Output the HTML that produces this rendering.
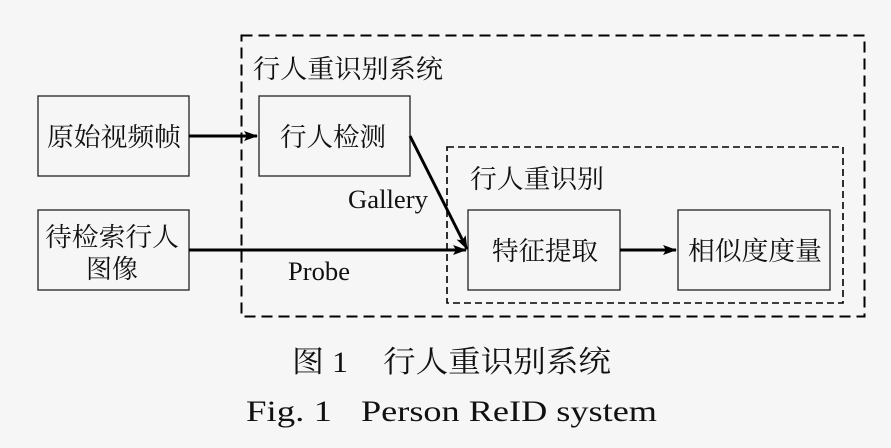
<!DOCTYPE html>
<html><head><meta charset="utf-8"><style>
html,body{margin:0;padding:0;background:#f6f6f6;}
svg{display:block}
</style></head><body>
<svg width="891" height="448" viewBox="0 0 891 448" xmlns="http://www.w3.org/2000/svg">
<defs><marker id="a" markerWidth="14" markerHeight="10" refX="13" refY="5" orient="auto" markerUnits="userSpaceOnUse"><path d="M0,0 L14,5 L0,10 L3,5 z" fill="#000"/></marker></defs>
<rect width="891" height="448" fill="#f6f6f6"/>
<rect x="241.5" y="35.5" width="623" height="281" fill="none" stroke="#000" stroke-width="2" stroke-dasharray="11,6"/>
<rect x="447" y="147" width="396" height="156" fill="none" stroke="#000" stroke-width="1.6" stroke-dasharray="7,4"/>
<g fill="none" stroke="#222" stroke-width="1.3">
<rect x="38" y="96" width="151" height="80"/>
<rect x="259" y="96" width="151" height="80"/>
<rect x="38" y="210" width="151" height="80"/>
<rect x="468" y="210" width="152" height="80"/>
<rect x="678" y="210" width="152" height="80"/>
</g>
<g stroke="#000" stroke-width="3" fill="none">
<line x1="189" y1="136" x2="257" y2="136" marker-end="url(#a)"/>
<line x1="189" y1="250" x2="466" y2="250" marker-end="url(#a)"/>
<line x1="410" y1="136" x2="467" y2="249" marker-end="url(#a)"/>
<line x1="620" y1="250" x2="676" y2="250" marker-end="url(#a)"/>
</g>
<g font-family="'Noto Serif CJK SC','Noto Sans CJK SC',serif" font-size="26" fill="#111">
<text x="47" y="146" textLength="134" lengthAdjust="spacingAndGlyphs">原始视频帧</text>
<text x="280" y="146" textLength="106" lengthAdjust="spacingAndGlyphs">行人检测</text>
<text x="45" y="246" textLength="134" lengthAdjust="spacingAndGlyphs">待检索行人</text>
<text x="86" y="278" textLength="52" lengthAdjust="spacingAndGlyphs">图像</text>
<text x="492" y="260" textLength="106" lengthAdjust="spacingAndGlyphs">特征提取</text>
<text x="688" y="260" textLength="134" lengthAdjust="spacingAndGlyphs">相似度度量</text>
<text x="253" y="78" textLength="190" lengthAdjust="spacingAndGlyphs">行人重识别系统</text>
<text x="470" y="188" textLength="134" lengthAdjust="spacingAndGlyphs">行人重识别</text>
</g>
<g font-family="'Liberation Serif',serif" font-size="26" fill="#111">
<text x="348" y="208" textLength="80" lengthAdjust="spacingAndGlyphs">Gallery</text>
<text x="288" y="280" textLength="62" lengthAdjust="spacingAndGlyphs">Probe</text>
</g>
<g font-family="'Liberation Serif','Noto Serif CJK SC',serif" font-size="30" fill="#111">
<text x="292" y="372" textLength="56" lengthAdjust="spacingAndGlyphs">图 1</text>
<text x="383" y="372" textLength="228" lengthAdjust="spacingAndGlyphs" font-family="'Noto Serif CJK SC','Noto Sans CJK SC',serif">行人重识别系统</text>
<text x="246" y="421" textLength="86" lengthAdjust="spacingAndGlyphs">Fig. 1</text>
<text x="361" y="421" textLength="296" lengthAdjust="spacingAndGlyphs">Person ReID system</text>
</g>
</svg>
</body></html>
